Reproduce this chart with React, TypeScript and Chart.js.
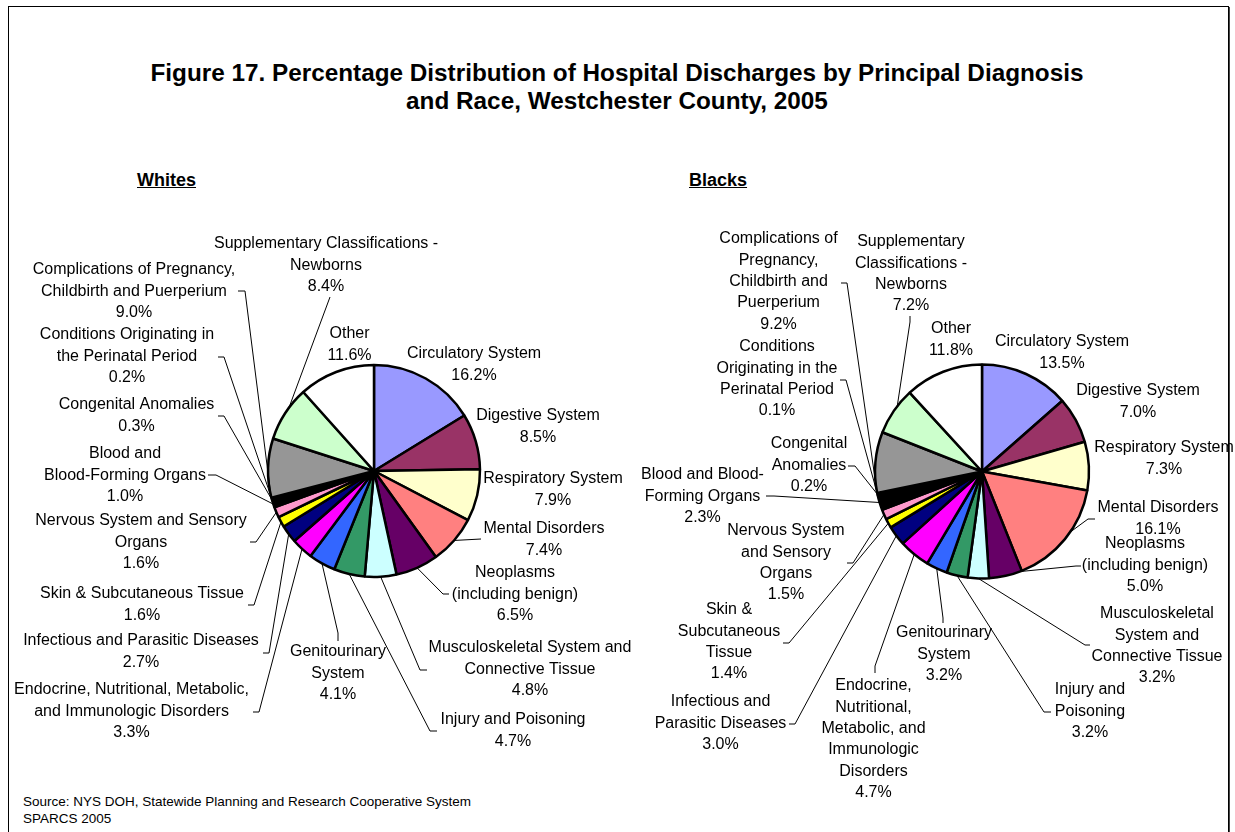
import React, { useEffect, useRef } from "react";
import { Chart, registerables } from "chart.js";

Chart.register(...registerables);

// ---------- DATA ----------
const categories = [
  "Circulatory System",
  "Digestive System",
  "Respiratory System",
  "Mental Disorders",
  "Neoplasms (including benign)",
  "Musculoskeletal System and Connective Tissue",
  "Injury and Poisoning",
  "Genitourinary System",
  "Endocrine, Nutritional, Metabolic, and Immunologic Disorders",
  "Infectious and Parasitic Diseases",
  "Skin & Subcutaneous Tissue",
  "Nervous System and Sensory Organs",
  "Blood and Blood-Forming Organs",
  "Congenital Anomalies",
  "Conditions Originating in the Perinatal Period",
  "Complications of Pregnancy, Childbirth and Puerperium",
  "Supplementary Classifications - Newborns",
  "Other",
];

const whitesValues = [16.2, 8.5, 7.9, 7.4, 6.5, 4.8, 4.7, 4.1, 3.3, 2.7, 1.6, 1.6, 1.0, 0.3, 0.2, 9.0, 8.4, 11.6];
const blacksValues = [13.5, 7.0, 7.3, 16.1, 5.0, 3.2, 3.2, 3.2, 4.7, 3.0, 1.4, 1.5, 2.3, 0.2, 0.1, 9.2, 7.2, 11.8];

// Wrapped label text as shown in each chart
const whitesLabelLines = [
  "Circulatory System",
  "Digestive System",
  "Respiratory System",
  "Mental Disorders",
  "Neoplasms\n(including benign)",
  "Musculoskeletal System and\nConnective Tissue",
  "Injury and Poisoning",
  "Genitourinary\nSystem",
  "Endocrine, Nutritional, Metabolic,\nand Immunologic Disorders",
  "Infectious and Parasitic Diseases",
  "Skin & Subcutaneous Tissue",
  "Nervous System and Sensory\nOrgans",
  "Blood and\nBlood-Forming Organs",
  "Congenital Anomalies",
  "Conditions Originating in\nthe Perinatal Period",
  "Complications of Pregnancy,\nChildbirth and Puerperium",
  "Supplementary Classifications -\nNewborns",
  "Other",
];

const blacksLabelLines = [
  "Circulatory System",
  "Digestive System",
  "Respiratory System",
  "Mental Disorders",
  "Neoplasms\n(including benign)",
  "Musculoskeletal\nSystem and\nConnective Tissue",
  "Injury and\nPoisoning",
  "Genitourinary\nSystem",
  "Endocrine,\nNutritional,\nMetabolic, and\nImmunologic\nDisorders",
  "Infectious and\nParasitic Diseases",
  "Skin &\nSubcutaneous\nTissue",
  "Nervous System\nand Sensory\nOrgans",
  "Blood and Blood-\nForming Organs",
  "Congenital\nAnomalies",
  "Conditions\nOriginating in the\nPerinatal Period",
  "Complications of\nPregnancy,\nChildbirth and\nPuerperium",
  "Supplementary\nClassifications -\nNewborns",
  "Other",
];

// ---------- STYLE / LAYOUT ----------
const sliceColors = [
  "#9999FF", "#993366", "#FFFFCC", "#FF8080", "#660066", "#CCFFFF",
  "#339966", "#3366FF", "#FF00FF", "#000080", "#FFFF00", "#FF99CC",
  "#000000", "#800000", "#008080", "#969696", "#CCFFCC", "#FFFFFF",
];

const PAGE_W = 1235;
const PAGE_H = 832;
const FONT = '"Liberation Sans", Arial, sans-serif';
const LINE_H = 21.3;

const whitesPie = { cx: 374, cy: 471, r: 106 };
const blacksPie = { cx: 982, cy: 471.5, r: 107 };

// label block position: [center x, first-line center y]
const whitesLabelPos = [
  [474, 354], [538, 416], [553, 479], [544, 529], [515, 573], [530, 648],
  [513, 720], [338, 652], [131.5, 690], [141, 641], [142, 594], [141, 521],
  [125, 454], [136.5, 405], [127, 335], [134, 270], [326, 244], [349.5, 334],
];
// leader: [anchor x, anchor y, stub dx, stub dy, position along arc 0..1] or null
const whitesLeaders = [
  null, null, null,
  [481, 539, 0, 0, 0.5],
  [449, 594, -6, 0, 0.5],
  [427, 670, -7, 0, 0.5],
  [437, 731, -7, 0, 0.5],
  [338, 641, 0, -8, 0.5],
  [253, 712, 6, 0, 0.5],
  [263, 653, 6, 0, 0.5],
  [248, 605, 6, 0, 0.5],
  [250, 542, 6, 0, 0.5],
  [208, 475, 8, 0, 0.5],
  [218, 416, 6, 0, 0.5],
  [218, 357, 6, 0, 0.5],
  [238, 291, 7, 0, 0.04],
  [330, 297, 0, 0, 0.62],
  null,
];

const blacksLabelPos = [
  [1062, 342], [1138, 391], [1164, 448], [1158, 508], [1145, 544], [1157, 614],
  [1090, 690], [944, 633], [873.5, 686], [720.5, 702], [729, 610], [786, 531],
  [702.5, 475], [809, 444], [777, 347], [778.5, 239], [911, 242], [951, 329],
];
const blacksLeaders = [
  null, null, null,
  [1095, 519, -7, 0, 0.42],
  [1081, 566, -5, 0, 0.06],
  [1090, 645, -5, 0, 0.5],
  [1051, 712, -7, 0, 0.5],
  [943, 623, 0, -5, 0.5],
  [875, 673, 0, -7, 0.5],
  [789, 724, 6, 0, 0.5],
  [783, 643, 6, 0, 0.5],
  [847, 563, 6, 0, 0.5],
  [766, 496, 8, 0, 0.5],
  [848, 466, 7, 0, 0.5],
  [840, 380, 6, 0, 0.5],
  [841, 283, 6, 0, 0.03],
  [910, 316, 0, 6, 0.62],
  null,
];

type PieProps = {
  values: number[];
  lines: string[];
  pos: number[][];
  leaders: (number[] | null)[];
  pie: { cx: number; cy: number; r: number };
};

function PieCanvas({ values, lines, pos, leaders, pie }: PieProps) {
  const ref = useRef<HTMLCanvasElement | null>(null);

  useEffect(() => {
    const canvas = ref.current;
    if (!canvas) return;
    const labelPlugin = {
      id: "outerLabels",
      afterDatasetsDraw(chart: any) {
        const ctx = chart.ctx as CanvasRenderingContext2D;
        const meta = chart.getDatasetMeta(0);
        ctx.save();
        ctx.strokeStyle = "#000";
        ctx.lineWidth = 1;
        ctx.fillStyle = "#000";
        ctx.font = `16px ${FONT}`;
        ctx.textAlign = "center";
        ctx.textBaseline = "middle";
        meta.data.forEach((arc: any, i: number) => {
          const p = arc.getProps(["x", "y", "startAngle", "endAngle", "outerRadius"], true);
          const ld = leaders[i];
          if (ld) {
            const a = p.startAngle + (p.endAngle - p.startAngle) * ld[4];
            const px = p.x + Math.cos(a) * p.outerRadius;
            const py = p.y + Math.sin(a) * p.outerRadius;
            ctx.beginPath();
            ctx.moveTo(px, py);
            ctx.lineTo(ld[0] + ld[2], ld[1] + ld[3]);
            ctx.lineTo(ld[0], ld[1]);
            ctx.stroke();
          }
          const textLines = lines[i].split("\n").concat([`${values[i].toFixed(1)}%`]);
          const [lx, ly] = pos[i];
          textLines.forEach((t, k) => {
            ctx.fillText(t, lx, ly + k * LINE_H);
          });
        });
        ctx.restore();
      },
    };

    const chart = new Chart(canvas, {
      type: "pie",
      data: {
        labels: categories,
        datasets: [
          {
            data: values,
            backgroundColor: sliceColors,
            borderColor: "#000",
            borderWidth: 2.5,
            hoverOffset: 0,
            radius: pie.r,
          } as any,
        ],
      },
      options: {
        responsive: false,
        animation: false,
        events: [],
        layout: {
          padding: {
            left: pie.cx - 150,
            right: PAGE_W - pie.cx - 150,
            top: pie.cy - 150,
            bottom: PAGE_H - pie.cy - 150,
          },
        },
        plugins: {
          legend: { display: false },
          tooltip: { enabled: false },
        },
      },
      plugins: [labelPlugin],
    });
    return () => chart.destroy();
  }, [values, lines, pos, leaders, pie]);

  return (
    <canvas
      ref={ref}
      width={PAGE_W}
      height={PAGE_H}
      style={{ position: "absolute", left: 0, top: 0, width: PAGE_W, height: PAGE_H }}
    />
  );
}

export default function App() {
  const textBase: React.CSSProperties = {
    position: "absolute",
    fontFamily: FONT,
    color: "#000",
    whiteSpace: "nowrap",
  };
  return (
    <div
      style={{
        position: "absolute",
        left: 0,
        top: 0,
        width: PAGE_W,
        height: PAGE_H,
        overflow: "hidden",
        background: "#fff",
      }}
    >
      <div
        style={{
          position: "absolute",
          left: 8,
          top: 6,
          width: 1221,
          height: 900,
          border: "1px solid #000",
          boxSizing: "border-box",
          boxShadow: "1px 1px 0 #444",
        }}
      />
      <div
        style={{
          ...textBase,
          left: 0,
          top: 59,
          width: 1234,
          textAlign: "center",
          fontWeight: "bold",
          fontSize: 24.3,
          lineHeight: "28px",
        }}
      >
        Figure 17. Percentage Distribution of Hospital Discharges by Principal Diagnosis
        <br />
        and Race, Westchester County, 2005
      </div>
      <div
        style={{
          ...textBase,
          left: 137,
          top: 169,
          fontWeight: "bold",
          fontSize: 18,
          lineHeight: "22px",
          textDecoration: "underline",
        }}
      >
        Whites
      </div>
      <div
        style={{
          ...textBase,
          left: 689,
          top: 169,
          fontWeight: "bold",
          fontSize: 18,
          lineHeight: "22px",
          textDecoration: "underline",
        }}
      >
        Blacks
      </div>
      <div
        style={{
          ...textBase,
          left: 23,
          top: 793,
          fontSize: 13.5,
          lineHeight: "17px",
        }}
      >
        Source: NYS DOH, Statewide Planning and Research Cooperative System
        <br />
        SPARCS 2005
      </div>
      <PieCanvas
        values={whitesValues}
        lines={whitesLabelLines}
        pos={whitesLabelPos}
        leaders={whitesLeaders}
        pie={whitesPie}
      />
      <PieCanvas
        values={blacksValues}
        lines={blacksLabelLines}
        pos={blacksLabelPos}
        leaders={blacksLeaders}
        pie={blacksPie}
      />
    </div>
  );
}
